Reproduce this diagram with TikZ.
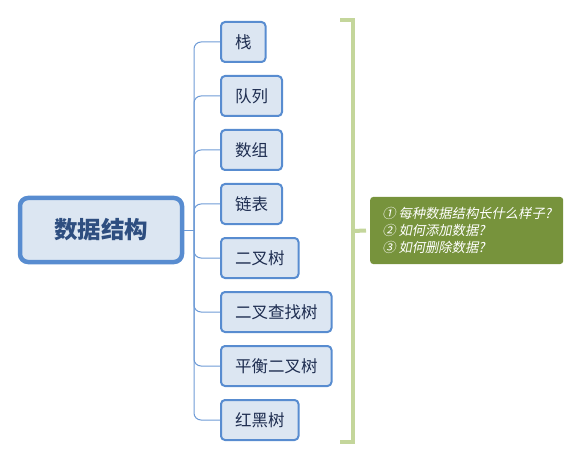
\documentclass[tikz,border=0pt]{standalone}
\usepackage{fontspec}
\setmainfont{Noto Sans CJK SC}
\newfontfamily\notefont[FakeSlant=0.2]{Noto Sans CJK SC}
\usetikzlibrary{positioning}
\definecolor{boxblue}{RGB}{220,230,242}
\definecolor{edgeblue}{RGB}{88,140,208}
\definecolor{lineblue}{RGB}{110,155,214}
\definecolor{textblue}{RGB}{30,45,80}
\definecolor{rootblue}{RGB}{46,78,128}
\definecolor{bracketgreen}{RGB}{196,214,155}
\definecolor{notegreen}{RGB}{119,147,60}

\tikzset{
  root/.style={draw=edgeblue, fill=boxblue, line width=4.5pt, rounded corners=8pt,
    minimum width=162pt, minimum height=64pt, text=rootblue, font=\fontsize{23.5}{23.5}\selectfont\bfseries},
  topic/.style={draw=edgeblue, fill=boxblue, line width=2pt, rounded corners=4pt, anchor=west,
    inner xsep=14pt, minimum height=40pt, text=textblue, font=\fontsize{16.5}{16.5}\selectfont},
  branch/.style={draw=lineblue, line width=1pt, rounded corners=7pt}
}

\begin{document}
\begin{tikzpicture}[x=1pt, y=-1pt]

    \useasboundingbox (0,0) rectangle (580,462);

    \node[root] (ds) at (101,230) {数据结构};

    \node[topic] (zhan) at (220,42) {栈};
    \node[topic] (duilie) at (220,96) {队列};
    \node[topic] (shuzu) at (220,150) {数组};
    \node[topic] (lianbiao) at (220,204) {链表};
    \node[topic] (erchashu) at (220,258) {二叉树};
    \node[topic] (chazhao) at (220,312) {二叉查找树};
    \node[topic] (pingheng) at (220,366) {平衡二叉树};
    \node[topic] (hongheishu) at (220,420) {红黑树};

    \coordinate (trunk) at (194,230);
    \draw[lineblue, line width=1pt] (ds.east) -- (trunk);
    \foreach \t in {zhan,duilie,shuzu,lianbiao,erchashu,chazhao,pingheng,hongheishu}
      \draw[branch] (trunk) |- (\t.west);

    % bracket with note
    \draw[bracketgreen, line width=4.5pt] (340,20) -| (353,442) -- (340,442);
    \coordinate (brace) at (353,231);
    \node[fill=notegreen, rounded corners=3pt, minimum width=193pt, minimum height=67pt,
      text=white, align=left, anchor=west, inner xsep=12pt,
      font=\notefont\fontsize{13.3}{17}\selectfont] (note) at (370,230.5)
      {① 每种数据结构长什么样子?\\② 如何添加数据?\\③ 如何删除数据?};
    \draw[bracketgreen, line width=4pt] (brace) -- ([xshift=-4pt]note.west);

\end{tikzpicture}
\end{document}
